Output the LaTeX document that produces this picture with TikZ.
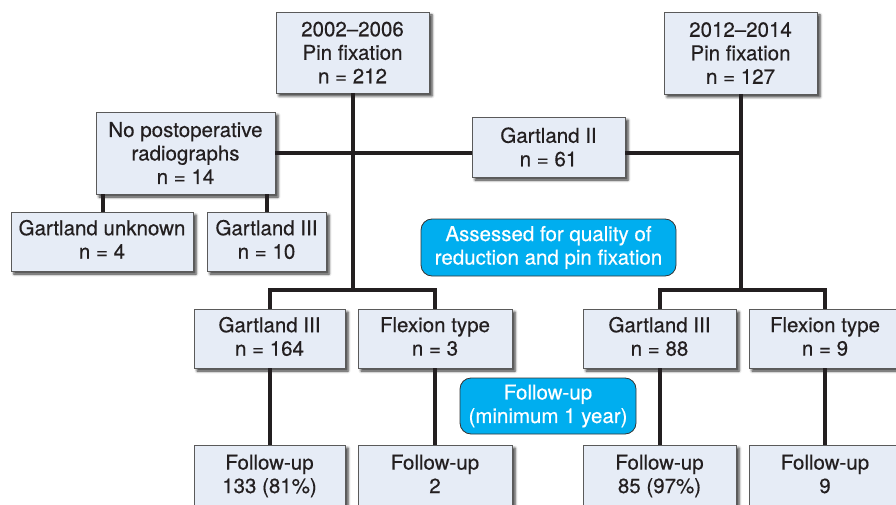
\documentclass[tikz,border=0pt]{standalone}
\usepackage{fontspec}
\setmainfont{TeX Gyre Heros}[FakeBold=0.4]
\usetikzlibrary{shadows.blur}
\definecolor{boxfill}{HTML}{E6ECF6}
\definecolor{boxline}{HTML}{5A5A5A}
\definecolor{cyanbox}{HTML}{00AEEF}
\definecolor{txt}{HTML}{231F20}
\begin{document}
\begin{tikzpicture}[x=1pt,y=-1pt,
  box/.style={draw=boxline, line width=0.8pt, fill=boxfill, align=center, inner sep=0pt, text=txt,
    font=\fontsize{20.5}{23.5}\selectfont,
    blur shadow={shadow xshift=3pt, shadow yshift=-3pt, shadow blur radius=2.5pt, shadow opacity=80}},
  bluebox/.style={draw=black!80, line width=0.8pt, fill=cyanbox, rounded corners=11pt, text=white,
    align=center, inner sep=0pt, font=\fontsize{20.5}{23.5}\selectfont},
  conn/.style={line width=4pt, draw=txt}]
\useasboundingbox (0,0) rectangle (896,505);
% top
\node[box, minimum width=153pt, minimum height=81pt] (a) at (352.5,52.5) {2002–2006\\Pin fixation\\n = 212};
\node[box, minimum width=153pt, minimum height=82pt] (b) at (740.5,53) {2012–2014\\Pin fixation\\n = 127};
% second row
\node[box, minimum width=179pt, minimum height=82pt] (np) at (185.5,153) {No postoperative\\radiographs\\n = 14};
\node[box, minimum width=153pt, minimum height=60pt] (g2) at (548.5,147) {Gartland II\\n = 61};
% third row
\node[box, minimum width=182pt, minimum height=59pt] (gu) at (102,241.5) {Gartland unknown\\n = 4\vphantom{()}};
\node[box, minimum width=119pt, minimum height=59pt] (g10) at (266.5,241.5) {Gartland III\\n = 10\vphantom{()}};
\node[bluebox, minimum width=255pt, minimum height=57pt] (assess) at (548.5,247.5) {Assessed for quality of\\reduction and pin fixation};
% fourth row
\node[box, minimum width=151pt, minimum height=59pt] (g164) at (269.5,338.5) {Gartland III\\n = 164\vphantom{()}};
\node[box, minimum width=154pt, minimum height=59pt] (f3) at (435,338.5) {Flexion type\\n = 3\vphantom{()}};
\node[box, minimum width=153pt, minimum height=59pt] (g88) at (659.5,338.5) {Gartland III\\n = 88\vphantom{()}};
\node[box, minimum width=152pt, minimum height=59pt] (f9) at (825,338.5) {Flexion type\\n = 9\vphantom{()}};
\node[bluebox, minimum width=176pt, minimum height=56pt] (fmin) at (548,406) {Follow-up\\(minimum 1 year)};
% bottom row
\node[box, minimum width=151pt, minimum height=62pt] (fu133) at (269.5,476) {Follow-up\\133 (81\%)};
\node[box, minimum width=154pt, minimum height=62pt] (fu2) at (435,476) {Follow-up\\2\vphantom{()}};
\node[box, minimum width=153pt, minimum height=62pt] (fu85) at (659.5,476) {Follow-up\\85 (97\%)};
\node[box, minimum width=152pt, minimum height=62pt] (fu9) at (825,476) {Follow-up\\9\vphantom{()}};
% junctions
\coordinate (barL) at (352.5,290);
\coordinate (barR) at (740.5,290);
% connectors
\draw[conn] (a.south) -- (barL);
\draw[conn] (g164.north) |- (barL) -| (f3.north);
\draw[conn] (b.south) -- (barR);
\draw[conn] (g88.north) |- (barR) -| (f9.north);
\draw[conn] (np.east) -- (np.east -| g2.west);
\draw[conn] (np.east -| g2.east) -- (np.east -| b.south);
\draw[conn] ([xshift=7pt]np.south west) -- ([xshift=7pt]np.south west |- gu.north);
\draw[conn] (g10.north |- np.south) -- (g10.north);
\draw[conn] (g164.south) -- (fu133.north);
\draw[conn] (f3.south) -- (fu2.north);
\draw[conn] (g88.south) -- (fu85.north);
\draw[conn] (f9.south) -- (fu9.north);
\end{tikzpicture}
\end{document}
